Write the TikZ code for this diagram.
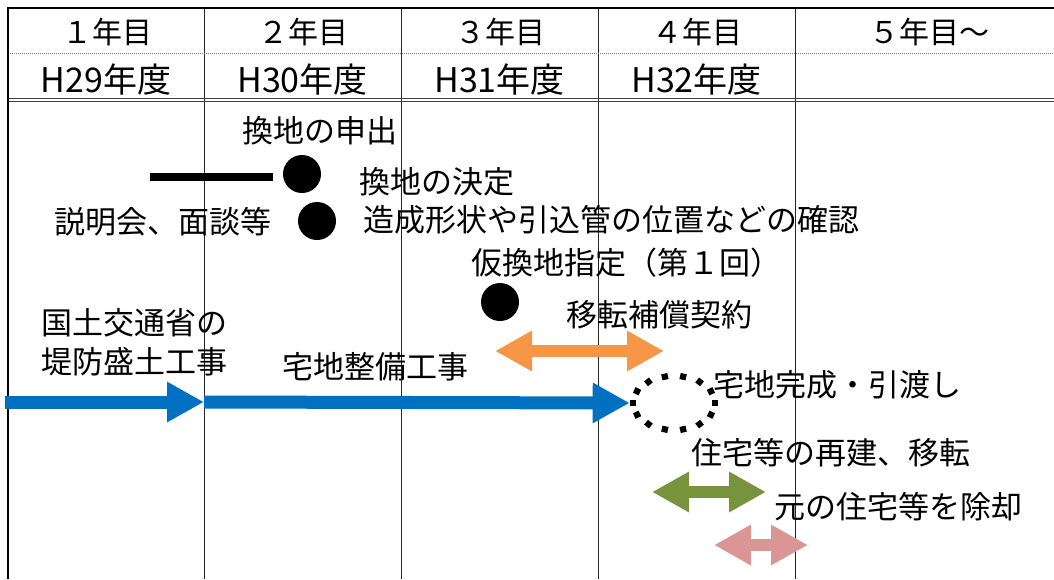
\documentclass[tikz,border=0pt]{standalone}
\usepackage{fontspec}
\setmainfont{Noto Sans CJK JP}
\usetikzlibrary{arrows.meta,shapes.geometric}
\definecolor{blueA}{HTML}{0070C0}
\definecolor{orangeA}{HTML}{F79646}
\definecolor{greenA}{HTML}{77933C}
\definecolor{pinkA}{HTML}{D99694}
\tikzset{
  lbl/.style={inner sep=0pt, font=\fontsize{31}{36}\selectfont},
  hdr/.style={inner sep=0pt, font=\fontsize{30}{36}\selectfont},
  hdrb/.style={inner sep=0pt, font=\fontsize{34}{40}\selectfont},
  dotnode/.style={circle, fill=black, minimum size=38pt, inner sep=0pt},
  sqdot/.style={fill=black, minimum size=6.2pt, inner sep=0pt},
  bigtip/.tip={Triangle[length=37pt,width=38pt]},
  blueline/.style={line width=13pt, blueA, -bigtip},
  dblarrow/.style={line width=12pt, bigtip-bigtip},
  gridline/.style={line width=1pt, black!85},
}
\begin{document}
\begin{tikzpicture}[x=1pt,y=-1pt]
\useasboundingbox (0,0) rectangle (1054,579);
% table grid
\foreach \x in {204,401,598,795} \draw[gridline] (\x,8) -- (\x,579);
\draw[gray, line width=0.8pt, dash pattern=on 1pt off 1pt] (8,53) -- (1054,53);
\draw[line width=1pt, black!75] (8,98) -- (1054,98);
\draw[line width=1pt, black!75] (8,101.5) -- (1054,101.5);
\draw[line width=2.2pt] (8,579) -- (8,8) -- (1054,8);
% header
\node[hdr] (h1) at (107,32) {１年目};
\node[hdr] (h2) at (303,32) {２年目};
\node[hdr] (h3) at (500,32) {３年目};
\node[hdr] (h4) at (697,32) {４年目};
\node[hdr] (h5) at (929,32) {５年目～};
\node[hdrb] (y1) at (106,80) {H29年度};
\node[hdrb] (y2) at (302.5,80) {H30年度};
\node[hdrb] (y3) at (499.5,80) {H31年度};
\node[hdrb] (y4) at (696.5,80) {H32年度};
% labels
\node[lbl] (t1) at (320,131) {換地の申出};
\node[lbl] (t2) at (437,182) {換地の決定};
\node[lbl] (t3) at (163,222) {説明会、面談等};
\node[lbl] (t4) at (611,220) {造成形状や引込管の位置などの確認};
\node[lbl] (t5) at (626,263) {仮換地指定（第１回）};
\node[lbl] (t6) at (659,315) {移転補償契約};
\node[lbl, align=left, font=\fontsize{31}{39}\selectfont] (t7) at (134,342) {国土交通省の\\堤防盛土工事};
\node[lbl] (t8) at (375,367) {宅地整備工事};
\node[lbl] (t9) at (837,385) {宅地完成・引渡し};
\node[lbl] (t10) at (831,453) {住宅等の再建、移転};
\node[lbl] (t11) at (898,507) {元の住宅等を除却};
% dots
\node[dotnode] (d1) at (302,174) {};
\node[dotnode] (d2) at (317,221) {};
\node[dotnode] (d3) at (500,302) {};
\coordinate (k0) at (150,177);
\coordinate (k1) at (273,177);
\draw[line width=8pt] (k0) -- (k1);
% completion ellipse (dotted ring of square dots)
\node[ellipse, minimum width=82pt, minimum height=54pt, inner sep=0pt] (ell) at (674,403) {};
\foreach \i in {0,...,13} {
  \pgfmathsetmacro{\ang}{\i*360/14}
  \path (ell.center) ++(\ang:41pt and 27pt) node[sqdot, rotate=\ang] (ring\i) {};
}
% blue arrows
\coordinate (b0) at (5,402);
\coordinate (b1) at (204,402);
\draw[blueline] (b0) -- (b1);
\draw[blueline] (b1) -- (ring7.east);
% double arrows
\coordinate (o0) at (495,351); \coordinate (o1) at (664,351);
\draw[dblarrow, orangeA] (o0) -- (o1);
\coordinate (g0) at (652,492); \coordinate (g1) at (766,492);
\draw[dblarrow, greenA] (g0) -- (g1);
\coordinate (p0) at (714,545); \coordinate (p1) at (808,545);
\draw[dblarrow, pinkA] (p0) -- (p1);
\end{tikzpicture}
\end{document}
